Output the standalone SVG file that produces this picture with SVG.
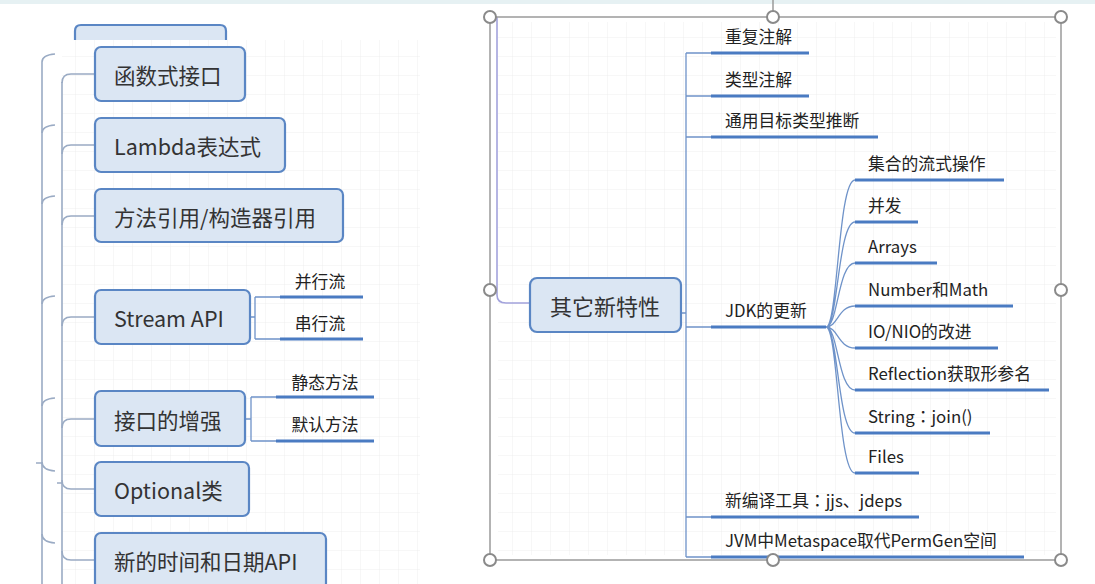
<svg xmlns="http://www.w3.org/2000/svg" width="1095" height="584" viewBox="0 0 1095 584">
<defs>
<pattern id="grid" width="19" height="19" patternUnits="userSpaceOnUse"><path d="M19 0V19H0" fill="none" stroke="#eeeeee" stroke-width="1"/></pattern>
</defs>
<style>
.box{fill:#dbe6f3;stroke:#5a86c4;stroke-width:2.2}
.bt{font-family:"Noto Sans CJK SC","Noto Sans",sans-serif;font-size:21.5px;fill:#333;dominant-baseline:central}
.lt{font-family:"Noto Sans CJK SC","Noto Sans",sans-serif;font-size:16.8px;fill:#222;dominant-baseline:central}
.cc{font-family:"Noto Sans CJK TC",sans-serif}
.ul{stroke:#4a7bc2;stroke-width:3.2;fill:none}
.th{stroke:#6f93c9;stroke-width:1.3;fill:none}
.lc{stroke:#9aabc4;stroke-width:1.6;fill:none}
.frame{fill:none;stroke:#9a9a9a;stroke-width:1.5}
.h{fill:#fff;stroke:#8a8a8a;stroke-width:2}
</style>
<rect width="1095" height="584" fill="#fff"/>
<rect width="1095" height="4" fill="#e6f1f3"/>
<rect x="62" y="40" width="358" height="544" fill="url(#grid)"/>
<rect x="498" y="22" width="558" height="533" fill="url(#grid)"/>

<g id="top-partial-box">
<path d="M75,40 V31 Q75,25 81,25 H220 Q226,25 226,31 V40" class="box"/>
</g>

<g id="connectors">
<path class="lc" d="M42,62 V584"/>
<path class="lc" d="M42,62 Q42,55 55,54 M42,133 Q42,126 55,125 M42,204 Q42,197 55,196 M42,304 Q42,297 55,296 M42,406 Q42,399 55,398 M42,462 Q42,470 55,471 M42,534 Q42,542 55,543 M36,463 H42"/>
<path class="lc" d="M62,82 V584"/>
<path class="lc" d="M62,83 Q62,74 71,74 H95 M62,154 Q62,145 71,145 H95 M62,225 Q62,216 71,216 H95 M62,326 Q62,317 71,317 H95 M62,428 Q62,419 71,419 H95 M62,480 Q62,489 71,489 H95 M62,551 Q62,560 71,560 H95 M57,483 H62"/>
<path class="th" d="M250,317 H255 M255,297 V339 M255,297 H280 M255,339 H280"/>
<path class="ul" d="M280,297 H363 M280,339 H363"/>
<path class="th" d="M245,419 H251 M251,397 V441 M251,397 H276 M251,441 H276"/>
<path class="ul" d="M276,397 H374 M276,441 H374"/>
<path d="M497,17 V295 Q497,303 506,303 H530" fill="none" stroke="#a3a3dc" stroke-width="1.6"/>
<path class="th" d="M681,313 H686 M686,53 V557 M686,53 H711 M686,96 H711 M686,137 H711 M686,327 H711 M686,517 H711 M686,557 H711"/>
<path class="ul" d="M711,53 H809 M711,96 H809 M711,137 H878 M711,327 H826 M711,517 H919 M711,557 H1024"/>
<path class="th" d="M826,327 C838,327 838,180 855,180 M826,327 C838,327 838,222 855,222 M826,327 C838,327 838,263 855,263 M826,327 C838,327 838,306 855,306 M826,327 C838,327 838,348 855,348 M826,327 C838,327 838,390 855,390 M826,327 C838,327 838,433 855,433 M826,327 C838,327 838,473 855,473"/>
<path class="ul" d="M855,180 H1004 M855,222 H918 M855,263 H937 M855,306 H1013 M855,348 H998 M855,390 H1049 M855,433 H990 M855,473 H919"/>
</g>

<g id="n-hanshu"><rect class="box" x="95" y="47" width="150" height="54" rx="6"/><text class="bt" x="114" y="74">函数式接口</text></g>
<g id="n-lambda"><rect class="box" x="95" y="118" width="190" height="54" rx="6"/><text class="bt" x="114" y="145">Lambda表达式</text></g>
<g id="n-method"><rect class="box" x="95" y="189" width="248" height="53" rx="6"/><text class="bt" x="114" y="216">方法引用/构造器引用</text></g>
<g id="n-stream"><rect class="box" x="95" y="290" width="155" height="54" rx="6"/><text class="bt" x="114" y="317">Stream API</text></g>
<g id="n-parallel"><text class="lt" x="320" y="281" text-anchor="middle">并行流</text></g>
<g id="n-serial"><text class="lt" x="320" y="323" text-anchor="middle">串行流</text></g>
<g id="n-interface"><rect class="box" x="95" y="391" width="150" height="55" rx="6"/><text class="bt" x="114" y="419">接口的增强</text></g>
<g id="n-static"><text class="lt" x="325" y="382" text-anchor="middle">静态方法</text></g>
<g id="n-default"><text class="lt" x="325" y="424" text-anchor="middle">默认方法</text></g>
<g id="n-optional"><rect class="box" x="95" y="462" width="154" height="54" rx="6"/><text class="bt" x="114" y="489">Optional类</text></g>
<g id="n-datetime"><rect class="box" x="95" y="533" width="231" height="56" rx="6"/><text class="bt" x="114" y="560">新的时间和日期API</text></g>

<g id="selection-frame">
<path d="M773,0 V17" stroke="#9a9a9a" stroke-width="1.5"/>
<rect class="frame" x="490" y="17" width="571" height="543"/>
</g>

<g id="n-other"><rect class="box" x="530" y="278" width="151" height="54" rx="7"/><text class="bt" x="605" y="305" text-anchor="middle" style="font-size:22px">其它新特性</text></g>
<g id="n-repeat"><text class="lt" x="725" y="36">重复注解</text></g>
<g id="n-typeanno"><text class="lt" x="725" y="79">类型注解</text></g>
<g id="n-infer"><text class="lt" x="725" y="120">通用目标类型推断</text></g>
<g id="n-jdk"><text class="lt" x="725" y="310">JDK的更新</text></g>
<g id="n-tools"><text class="lt" x="725" y="500">新编译工具<tspan class="cc">：</tspan>jjs、jdeps</text></g>
<g id="n-jvm"><text class="lt" x="725" y="540">JVM中Metaspace取代PermGen空间</text></g>
<g id="n-coll"><text class="lt" x="868" y="163">集合的流式操作</text></g>
<g id="n-conc"><text class="lt" x="868" y="205">并发</text></g>
<g id="n-arrays"><text class="lt" x="868" y="246">Arrays</text></g>
<g id="n-number"><text class="lt" x="868" y="289">Number和Math</text></g>
<g id="n-io"><text class="lt" x="868" y="331">IO/NIO的改进</text></g>
<g id="n-refl"><text class="lt" x="868" y="373">Reflection获取形参名</text></g>
<g id="n-string"><text class="lt" x="868" y="416">String<tspan class="cc">：</tspan>join()</text></g>
<g id="n-files"><text class="lt" x="868" y="456">Files</text></g>

<g id="handles">
<circle class="h" cx="490" cy="17" r="6"/><circle class="h" cx="773" cy="17" r="6"/><circle class="h" cx="1061" cy="17" r="6"/>
<circle class="h" cx="490" cy="290" r="6"/><circle class="h" cx="1061" cy="290" r="6"/>
<circle class="h" cx="490" cy="560" r="6"/><circle class="h" cx="773" cy="560" r="6"/><circle class="h" cx="1061" cy="560" r="6"/>
</g>
</svg>
